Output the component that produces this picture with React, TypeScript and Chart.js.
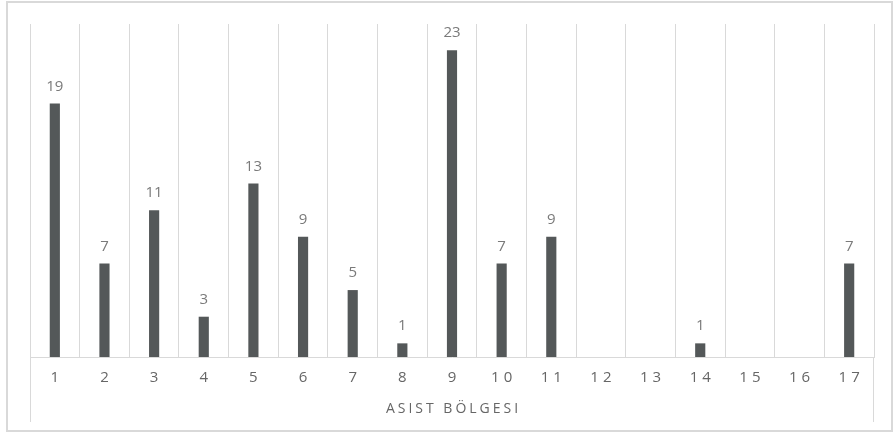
import React, { useEffect, useRef } from "react";
import { Chart, registerables } from "chart.js";

Chart.register(...registerables);

const categories = ["1","2","3","4","5","6","7","8","9","10","11","12","13","14","15","16","17"];
const values = [19, 7, 11, 3, 13, 9, 5, 1, 23, 7, 9, 0, 0, 1, 0, 0, 7];
const axisTitle = "ASIST BÖLGESI";

const FONT = "'Open Sans', 'Liberation Sans', sans-serif";

const decorPlugin = {
  id: "decor",
  afterDraw(chart: any) {
    const ctx = chart.ctx as CanvasRenderingContext2D;
    const area = chart.chartArea;
    const xScale = chart.scales.x;
    const yScale = chart.scales.y;
    ctx.save();
    // outer frame
    ctx.strokeStyle = "#d9d9d9";
    ctx.lineWidth = 2;
    ctx.strokeRect(7, 2, 885, 429);
    // outer gridlines extended below baseline
    ctx.lineWidth = 1;
    ctx.beginPath();
    ctx.moveTo(Math.round(area.left) + 0.5, area.bottom);
    ctx.lineTo(Math.round(area.left) + 0.5, 422);
    ctx.moveTo(Math.round(area.right) - 0.5, area.bottom);
    ctx.lineTo(Math.round(area.right) - 0.5, 422);
    ctx.stroke();
    // data labels
    ctx.fillStyle = "#7a7a7a";
    ctx.font = `15px ${FONT}`;
    ctx.textAlign = "center";
    ctx.textBaseline = "bottom";
    values.forEach((v, i) => {
      if (v === 0) return;
      const x = xScale.getPixelForValue(i);
      const y = yScale.getPixelForValue(v);
      ctx.fillText(String(v), x, y - 10);
    });
    // tick labels
    (ctx as any).letterSpacing = "4px";
    ctx.fillStyle = "#666666";
    ctx.font = `15px ${FONT}`;
    ctx.textBaseline = "middle";
    categories.forEach((c, i) => {
      const x = xScale.getPixelForValue(i);
      ctx.fillText(c, x + 2, 378);
    });
    // axis title
    (ctx as any).letterSpacing = "3px";
    ctx.font = `14px ${FONT}`;
    ctx.fillText(axisTitle, (area.left + area.right) / 2 + 1.5, 409);
    (ctx as any).letterSpacing = "0px";
    ctx.restore();
  },
};

export default function App() {
  const ref = useRef<HTMLCanvasElement | null>(null);
  useEffect(() => {
    if (!ref.current) return;
    const chart = new Chart(ref.current, {
      type: "bar",
      data: {
        labels: categories,
        datasets: [
          {
            data: values.map((v) => (v === 0 ? null : v)),
            backgroundColor: "#545859",
            barThickness: 9.5,
          },
        ],
      },
      options: {
        animation: false,
        responsive: true,
        maintainAspectRatio: false,
        layout: { padding: { left: 30, right: 21, top: 24, bottom: 76 } },
        plugins: { legend: { display: false }, tooltip: { enabled: false }, title: { display: false } },
        scales: {
          x: {
            grid: { color: "#d9d9d9", lineWidth: 1, offset: true, drawTicks: false },
            border: { color: "#d9d9d9", width: 1 },
            ticks: { display: false },
          },
          y: {
            display: false,
            min: 0,
            max: 25,
          },
        },
      },
      plugins: [decorPlugin],
    });
    return () => chart.destroy();
  }, []);
  return (
    <div style={{ position: "fixed", left: 0, top: 0, width: 895, height: 433, background: "#fff" }}>
      <canvas ref={ref} />
    </div>
  );
}
